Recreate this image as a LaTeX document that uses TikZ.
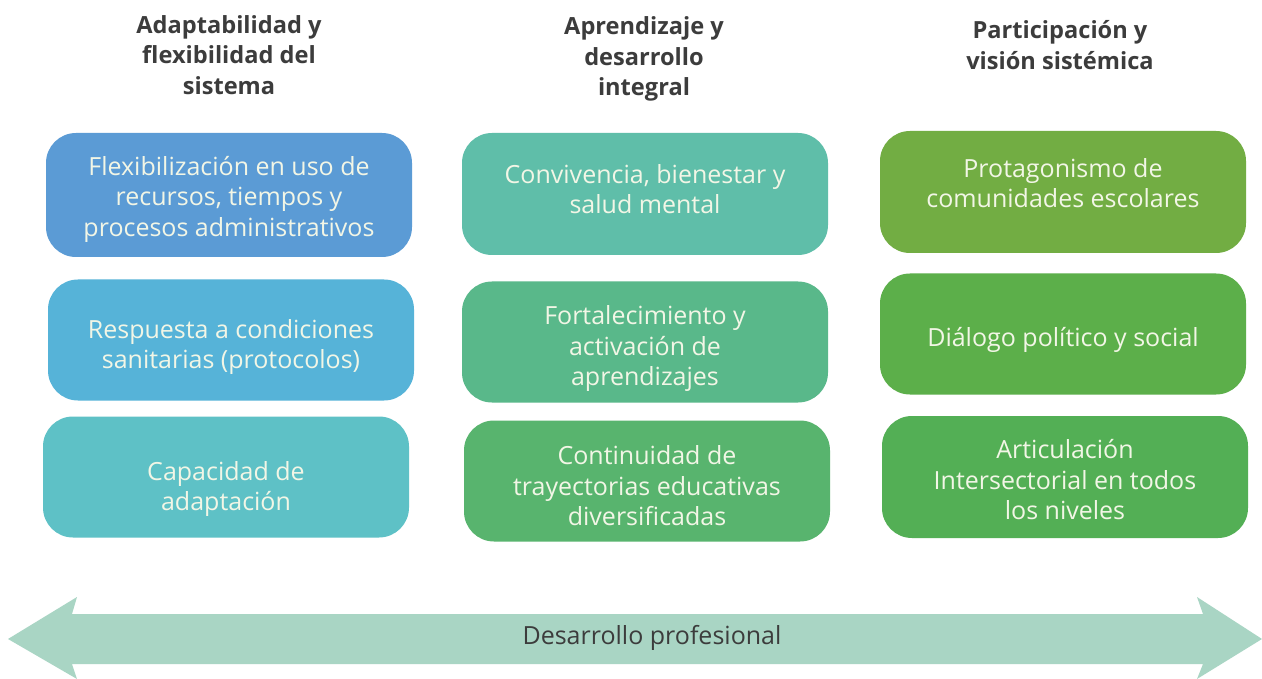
\documentclass[tikz,border=0pt]{standalone}
\usepackage{fontspec}
\setmainfont{Open Sans}
\definecolor{cA}{HTML}{5B9BD5}
\definecolor{cB}{HTML}{56B3D8}
\definecolor{cC}{HTML}{5EC1C6}
\definecolor{cD}{HTML}{5FBEA9}
\definecolor{cE}{HTML}{59B88A}
\definecolor{cF}{HTML}{58B46E}
\definecolor{cG}{HTML}{72AD43}
\definecolor{cH}{HTML}{5CAF4A}
\definecolor{cI}{HTML}{53AF55}
\definecolor{arrowc}{HTML}{A9D5C4}
\definecolor{txtc}{HTML}{F2F6E6}
\definecolor{headc}{HTML}{3C3C3C}
\tikzset{
  x=1pt,y=-1pt,
  card/.style={rounded corners=30pt, minimum width=366pt, minimum height=122pt, inner sep=0pt},
  cardtext/.style={text=txtc, align=center, font=\fontsize{25}{30.5}\selectfont, inner sep=0pt},
  head/.style={text=headc, align=center, font=\bfseries\fontsize{23.6}{30.5}\selectfont, inner sep=0pt}
}
\begin{document}
\begin{tikzpicture}
\useasboundingbox (0,0) rectangle (1262,679);
\fill[white] (0,0) rectangle (1262,679);
% headers
\node[head] (h1) at (229,55) {Adaptabilidad y\\flexibilidad del\\sistema};
\node[head] (h2) at (644,59) {Aprendizaje y\\desarrollo\\integral};
\node[head] (h3) at (1060,45) {Participación y\\visión sistémica};
% column 1
\node[card, fill=cA, minimum height=124pt] (a1) at (229,195) {};
\node[cardtext] (a1t) at ([yshift=-4pt]a1.center) {Flexibilización en uso de\\recursos, tiempos y\\procesos administrativos};
\node[card, fill=cB, minimum height=121pt] (a2) at (231,340) {};
\node[cardtext] (a2t) at ([yshift=-7pt]a2.center) {Respuesta a condiciones\\sanitarias (protocolos)};
\node[card, fill=cC, minimum height=121pt] (a3) at (226,477) {};
\node[cardtext] (a3t) at ([yshift=-12pt]a3.center) {Capacidad de\\adaptación};
% column 2
\node[card, fill=cD] (b1) at (645,194) {};
\node[cardtext] (b1t) at ([yshift=5pt]b1.center) {Convivencia, bienestar y\\salud mental};
\node[card, fill=cE, minimum height=121pt] (b2) at (645,342) {};
\node[cardtext] (b2t) at ([yshift=-7pt]b2.center) {Fortalecimiento y\\activación de\\aprendizajes};
\node[card, fill=cF, minimum height=121pt] (b3) at (647,481) {};
\node[cardtext] (b3t) at ([yshift=-5pt]b3.center) {Continuidad de\\trayectorias educativas\\diversificadas};
% column 3
\node[card, fill=cG] (c1) at (1063,192) {};
\node[cardtext] (c1t) at ([yshift=9pt]c1.center) {Protagonismo de\\comunidades escolares};
\node[card, fill=cH, minimum height=121pt] (c2) at (1063,334) {};
\node[cardtext] (c2t) at ([yshift=-6pt]c2.center) {Diálogo político y social};
\node[card, fill=cI] (c3) at (1065,477) {};
\node[cardtext] (c3t) at ([yshift=-3pt]c3.center) {Articulación\\Intersectorial en todos\\los niveles};
% arrow
\fill[arrowc] (8,639) -- (77,597) -- (72,614) -- (1203,614) -- (1197,597) -- (1262,639) -- (1197,679) -- (1203,664) -- (72,664) -- (77,679) -- cycle;
\node[text=headc, font=\fontsize{25}{27}\selectfont, inner sep=0pt] (dp) at (652,638) {Desarrollo profesional};
\end{tikzpicture}
\end{document}
